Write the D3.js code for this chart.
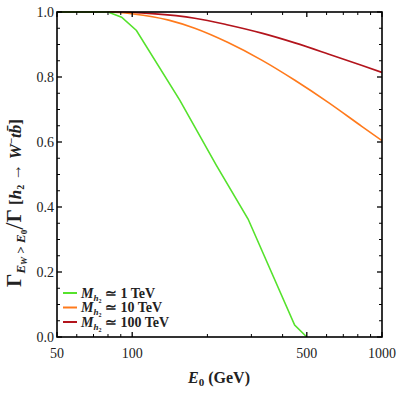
<!DOCTYPE html>
<html><head><meta charset="utf-8">
<script src="https://cdn.jsdelivr.net/npm/d3@7"></script>
<style>
  html,body{margin:0;background:#fff}
  svg{display:block}
  text{font-family:"Liberation Serif",serif;fill:#222}
</style></head>
<body>
<svg width="399" height="399"></svg>
<script>
// values
const green  = [[50,1],[80,1],[90.7,0.984],[104,0.943],[155,0.729],[217,0.529],[291,0.363],[447,0.037],[500,0]];
const orange = [[50,1],[80,1],[101,0.994],[140,0.975],[178,0.950],[242,0.906],[330,0.852],[448,0.790],[609,0.722],[827,0.649],[1000,0.604]];
const red    = [[50,1],[85,1],[120,0.995],[178,0.981],[242,0.960],[330,0.935],[448,0.905],[609,0.871],[827,0.836],[1000,0.814]];
const seriesNames = ['1 TeV','10 TeV','100 TeV'];
const colors = ['#55e22c','#ff7a1c','#b3141c'];
const xMajor = [50,100,500,1000];
const xMinor = [60,70,80,90,200,300,400,600,700,800,900];
const yMajor = [0,0.2,0.4,0.6,0.8,1.0];

const m = {l:57, r:382, t:12, b:337};
const svg = d3.select('svg');
const x = d3.scaleLog().domain([50,1000]).range([m.l,m.r]);
const y = d3.scaleLinear().domain([0,1]).range([m.b,m.t]);
const yMinor = d3.range(0,1.0001,0.05).filter(v=>Math.abs(v*5-Math.round(v*5))>1e-6);

const plot = svg.append('g');
plot.append('clipPath').attr('id','clip').append('rect')
  .attr('x',m.l).attr('y',m.t-1).attr('width',m.r-m.l).attr('height',m.b-m.t+1);

const lineLin = d3.line().x(d=>x(d[0])).y(d=>y(d[1]));
const lineSmooth = d3.line().x(d=>x(d[0])).y(d=>y(d[1])).curve(d3.curveMonotoneX);

const g = plot.append('g').attr('clip-path','url(#clip)');
g.append('path').datum(red).attr('d',lineSmooth).attr('fill','none').attr('stroke',colors[2]).attr('stroke-width',1.6);
g.append('path').datum(orange).attr('d',lineSmooth).attr('fill','none').attr('stroke',colors[1]).attr('stroke-width',1.6);
g.append('path').datum(green).attr('d',lineLin).attr('fill','none').attr('stroke',colors[0]).attr('stroke-width',1.6);

// ticks (inside, all four sides)
const tk = svg.append('g').attr('stroke','#000');
function tick(x1,y1,x2,y2,w){tk.append('line').attr('x1',x1).attr('y1',y1).attr('x2',x2).attr('y2',y2).attr('stroke-width',w);}
xMajor.forEach(v=>{tick(x(v),m.b,x(v),m.b-5,1.3);tick(x(v),m.t,x(v),m.t+5,1.3);});
xMinor.forEach(v=>{tick(x(v),m.b,x(v),m.b-3,1);tick(x(v),m.t,x(v),m.t+3,1);});
yMajor.forEach(v=>{tick(m.l,y(v),m.l+5,y(v),1.3);tick(m.r,y(v),m.r-5,y(v),1.3);});
yMinor.forEach(v=>{tick(m.l,y(v),m.l+3,y(v),1);tick(m.r,y(v),m.r-3,y(v),1);});

svg.append('rect').attr('x',m.l).attr('y',m.t).attr('width',m.r-m.l).attr('height',m.b-m.t)
  .attr('fill','none').attr('stroke','#000').attr('stroke-width',1.6);

// tick labels
svg.append('g').selectAll('text').data(yMajor).join('text')
  .attr('x',m.l-3).attr('y',d=>y(d)+5).attr('text-anchor','end')
  .style('font-size','14px').text(d=>d.toFixed(1));
svg.append('g').selectAll('text').data(xMajor).join('text')
  .attr('x',d=>x(d)).attr('y',358).attr('text-anchor','middle')
  .style('font-size','14px').text(d=>d);

// x title
const xt = svg.append('text').attr('x',219).attr('y',383).attr('text-anchor','middle')
  .style('font-size','16px').style('font-weight','bold');
xt.append('tspan').style('font-style','italic').text('E');
xt.append('tspan').attr('dy',3).style('font-size','11px').text('0');
xt.append('tspan').attr('dy',-3).text(' (GeV)');

// y title
const yt = svg.append('text').attr('transform','translate(21,203) rotate(-90)')
  .attr('text-anchor','middle').style('font-size','17px').style('font-weight','bold');
yt.append('tspan').style('font-size','21px').text('Γ');
yt.append('tspan').attr('dy',4).style('font-size','13px').style('font-style','italic').text('E');
yt.append('tspan').attr('dy',2).style('font-size','9px').style('font-style','italic').text('W');
yt.append('tspan').attr('dy',-2).style('font-size','13px').text(' > ');
yt.append('tspan').style('font-size','13px').style('font-style','italic').text('E');
yt.append('tspan').attr('dy',2).style('font-size','9px').text('0');
yt.append('tspan').attr('dy',-4).style('font-size','26px').style('font-weight','normal').text('/');
yt.append('tspan').attr('dy',-2).style('font-size','21px').text('Γ');
yt.append('tspan').text(' [');
yt.append('tspan').style('font-style','italic').text('h');
yt.append('tspan').attr('dy',3).style('font-size','10px').text('2');
yt.append('tspan').attr('dy',-3).text(' → ');
yt.append('tspan').style('font-style','italic').text('W');
yt.append('tspan').attr('dy',-6).style('font-size','11px').text('−');
yt.append('tspan').attr('dy',6).style('font-style','italic').text('t');
yt.append('tspan').style('font-style','italic').text('b̄');
yt.append('tspan').text(']');

// legend
const lg = svg.append('g');
seriesNames.forEach((n,i)=>{
  const yy = 293 + i*14.5;
  lg.append('line').attr('x1',63).attr('x2',77).attr('y1',yy).attr('y2',yy)
    .attr('stroke',colors[i]).attr('stroke-width',2);
  const t = lg.append('text').attr('x',81).attr('y',yy+4.5)
    .style('font-size','14px').style('font-weight','bold');
  t.append('tspan').style('font-style','italic').text('M');
  t.append('tspan').attr('dy',3).style('font-size','9px').style('font-style','italic').text('h');
  t.append('tspan').attr('dy',2).style('font-size','6px').text('2');
  t.append('tspan').attr('dy',-5).text(' ≃ ' + n);
});
</script>
</body></html>
